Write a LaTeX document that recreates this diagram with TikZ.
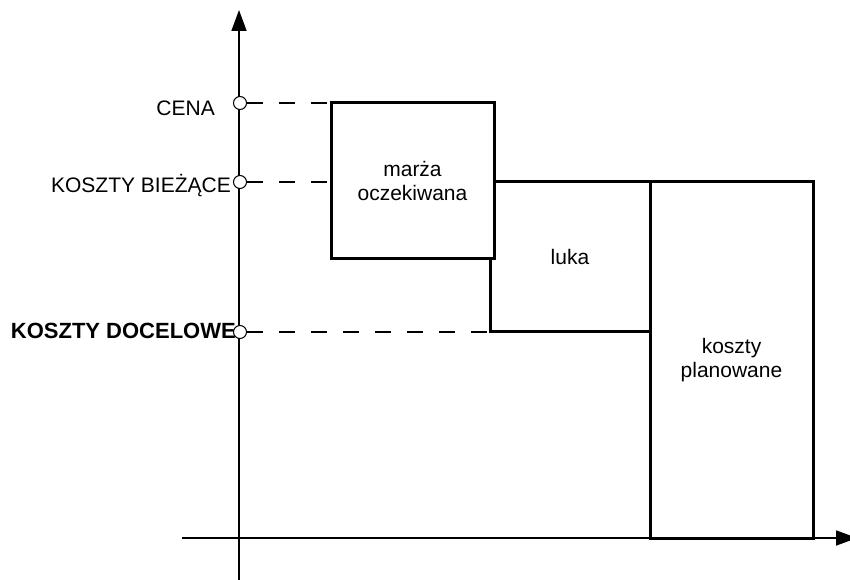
\documentclass[tikz,border=0pt]{standalone}
\usepackage{fontspec}
\setmainfont{Liberation Sans}
\usepackage{tikz}
\usetikzlibrary{arrows.meta, calc}

\begin{document}
\begin{tikzpicture}[x=1bp, y=-1bp, font=\fontsize{21bp}{24bp}\selectfont,
    box/.style={draw, fill=white, line width=3bp, align=center, inner sep=0pt},
    level/.style={draw, circle, fill=white, line width=1bp, minimum size=13bp, inner sep=0pt},
    guide/.style={line width=1.3bp, dash pattern=on 16bp off 16bp},
    axis/.style={line width=1.8bp, -{Triangle[length=21bp, width=15bp]}}]
    \useasboundingbox (0,0) rectangle (850,580);

    % ── axes ──────────────────────────────────────────────────────────
    \coordinate (ybot) at (239,580);
    \coordinate (ytop) at (239,10);
    \coordinate (xleft) at (182,538);
    \coordinate (xright) at (857,538);
    \draw[axis] (ybot) -- (ytop);
    \draw[axis] (xleft) -- (xright);

    % ── cost blocks ───────────────────────────────────────────────────
    \node[box, minimum width=160bp, minimum height=149bp] (luka) at (570,256.5) {luka};
    \node[box, minimum width=163bp, minimum height=356bp] (planowane) at (731.5,360) {koszty\\planowane};
    \node[box, minimum width=163bp, minimum height=155bp] (marza) at (412.5,180.5) {marża\\oczekiwana};

    % ── labels on the axis ────────────────────────────────────────────
    \node[anchor=base east, inner sep=0pt] (tCena) at (215,116) {CENA};
    \node[anchor=base east, inner sep=0pt] (tBiezace) at (231,193) {KOSZTY BIEŻĄCE};
    \node[anchor=base east, inner sep=0pt, font=\fontsize{22bp}{24bp}\selectfont\bfseries] (tDocelowe) at (236,338) {KOSZTY DOCELOWE};

    % ── levels and guide lines ────────────────────────────────────────
    \node[level] (pCena) at (240,103) {};
    \node[level] (pBiezace) at (240,182) {};
    \node[level] (pDocelowe) at (240,332) {};
    \draw[guide] (pCena.east) -- (pCena -| marza.west);
    \draw[guide] (pBiezace.east) -- (pBiezace -| marza.west);
    \draw[guide] (pDocelowe.east) -- (pDocelowe -| luka.west);
\end{tikzpicture}
\end{document}
